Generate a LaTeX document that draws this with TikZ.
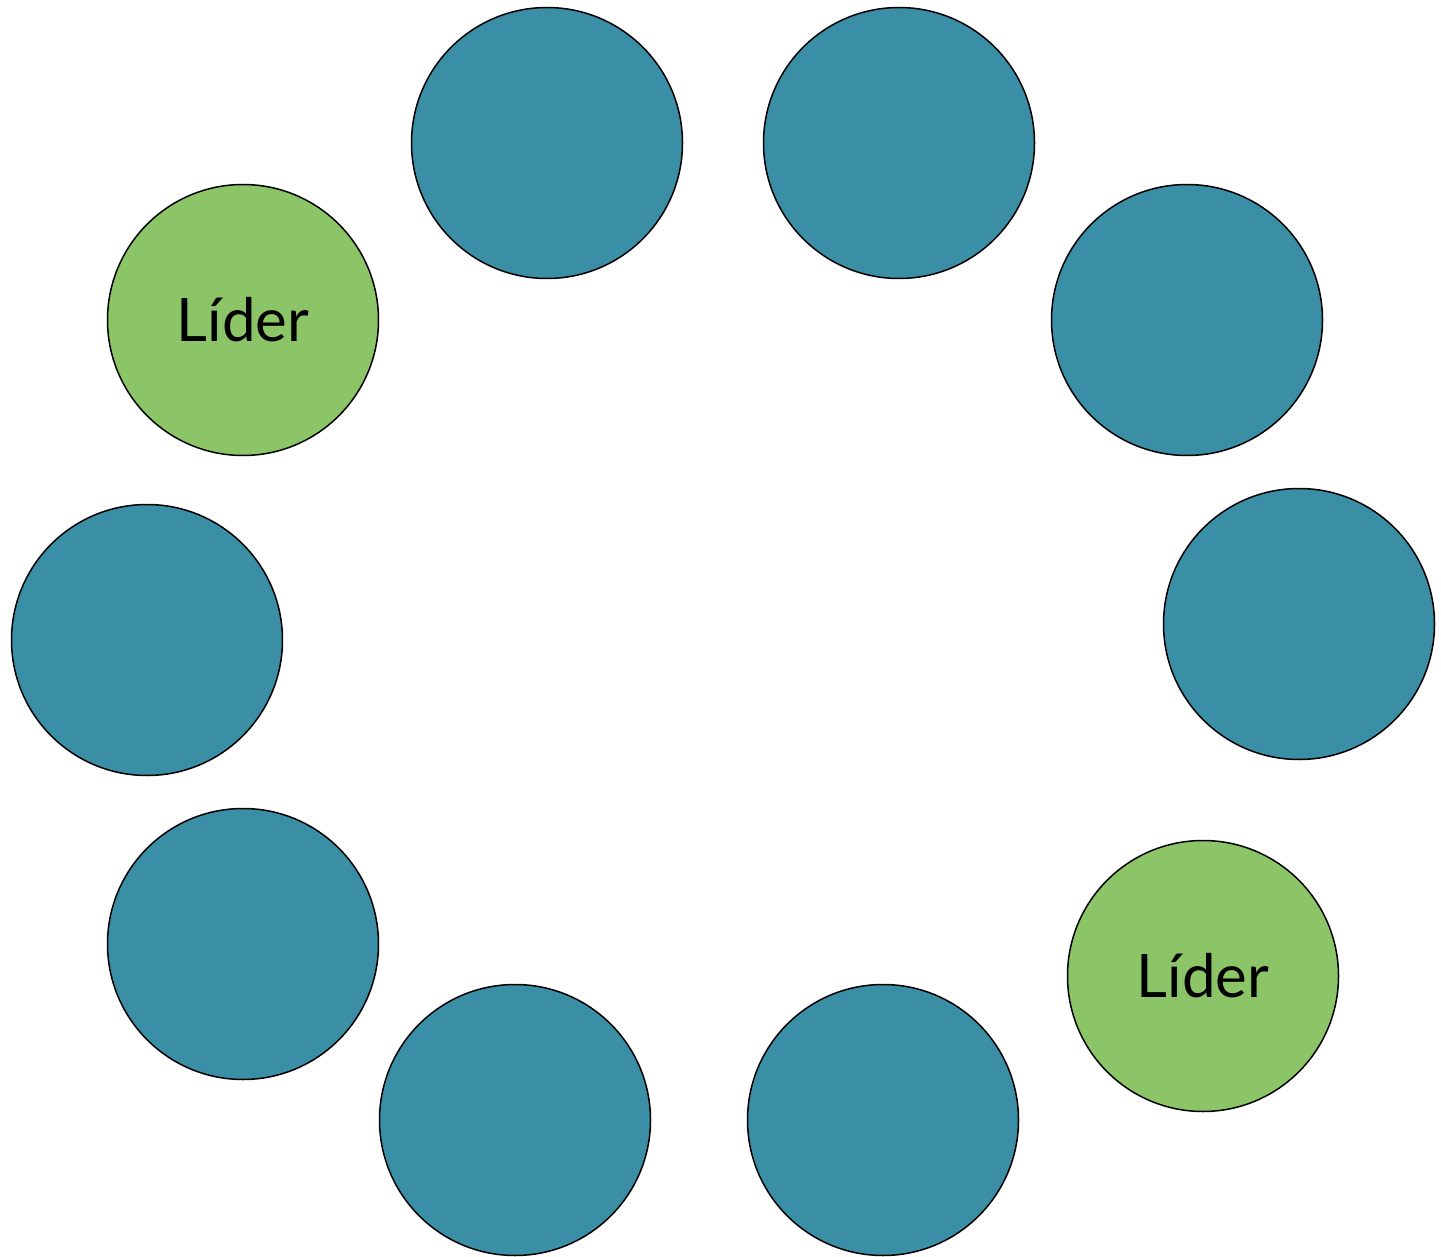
\documentclass[tikz,border=0pt]{standalone}
\usepackage{fontspec}
\setmainfont{Lato}
\definecolor{tealc}{HTML}{3A8FA7}
\definecolor{greenc}{HTML}{8CC567}
\begin{document}
\begin{tikzpicture}[x=1pt,y=-1pt,
  member/.style={circle,draw=black,line width=1.5pt,minimum size=271pt,inner sep=0pt,fill=tealc},
  leader/.style={member,fill=greenc,font=\fontsize{60}{72}\selectfont}]
\useasboundingbox (0,0) rectangle (1441,1257);
\node[member] (m1) at (547,143) {};
\node[member] (m2) at (899,143) {};
\node[member] (m3) at (1187,320) {};
\node[member] (m4) at (1299,624) {};
\node[leader] (l2) at (1203,976) {Líder};
\node[member] (m6) at (883,1120) {};
\node[member] (m7) at (515,1120) {};
\node[member] (m8) at (243,944) {};
\node[member] (m9) at (147,640) {};
\node[leader] (l1) at (243,320) {Líder};
\end{tikzpicture}
\end{document}
